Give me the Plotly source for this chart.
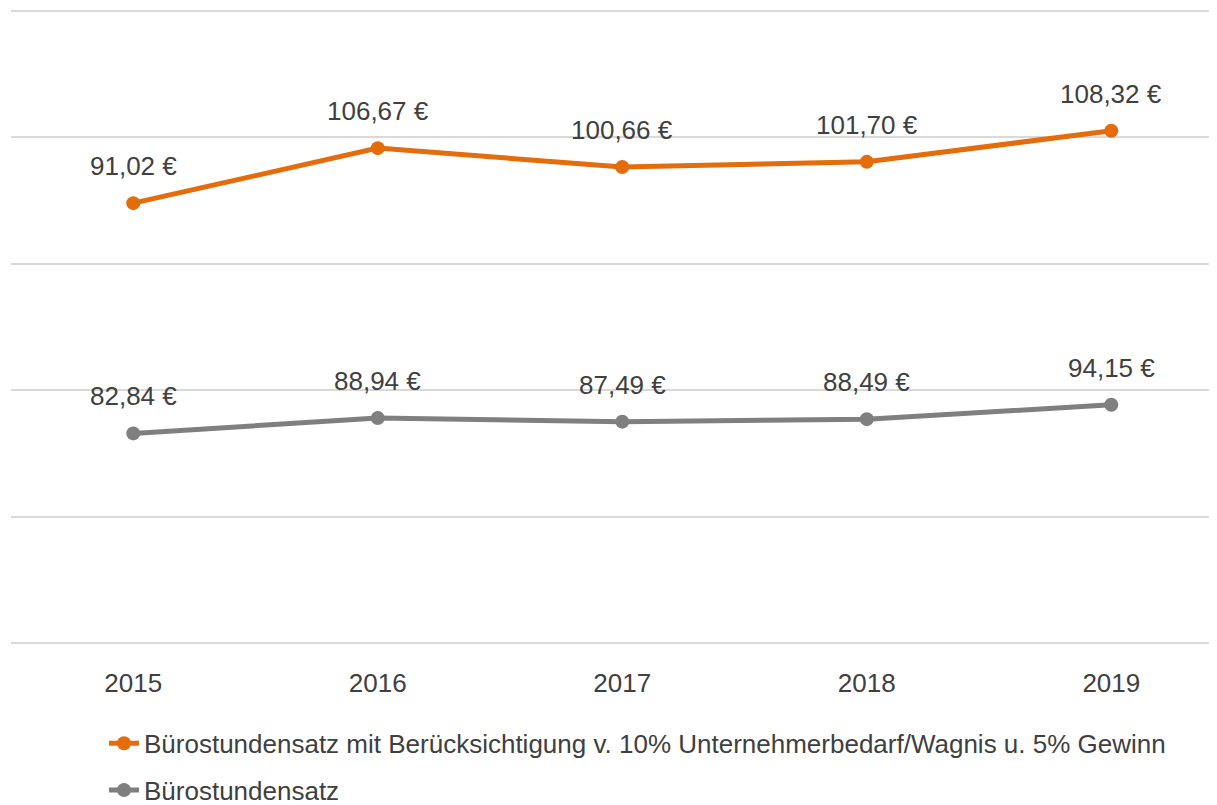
import plotly.graph_objects as go

years = ["2015", "2016", "2017", "2018", "2019"]
buero = [82.84, 88.94, 87.49, 88.49, 94.15]
buero_plus = [91.02, 106.67, 100.66, 101.70, 108.32]

name_plus = "Bürostundensatz mit Berücksichtigung v. 10% Unternehmerbedarf/Wagnis u. 5% Gewinn"
name_buero = "Bürostundensatz"

ORANGE = "#E46C0A"
GREY = "#7F7F7F"
TXT = "#404040"
GRID = "#D9D9D9"
FONT = "Liberation Sans, Arial, sans-serif"


def fmt(v):
    return f"{v:.2f}".replace(".", ",") + " €"


fig = go.Figure()
fig.add_trace(go.Scatter(
    x=years, y=buero, name=name_buero, stackgroup="s", fill="none",
    mode="lines+markers", line=dict(color=GREY, width=5),
    marker=dict(size=14, color=GREY), legendrank=2, legendgroup="b",
    hoverinfo="skip"))
fig.add_trace(go.Scatter(
    x=years, y=buero_plus, name=name_plus, stackgroup="s", fill="none",
    mode="lines+markers", line=dict(color=ORANGE, width=5),
    marker=dict(size=14, color=ORANGE), legendrank=1, legendgroup="a",
    hoverinfo="skip"))

stacked = [a + b for a, b in zip(buero, buero_plus)]
for i, (base, v) in enumerate(zip(buero, buero)):
    fig.add_annotation(x=i, y=base, text=fmt(v), showarrow=False,
                       yshift=37, yanchor="middle",
                       font=dict(family=FONT, size=26, color=TXT))
for i, (top, v) in enumerate(zip(stacked, buero_plus)):
    fig.add_annotation(x=i, y=top, text=fmt(v), showarrow=False,
                       yshift=37, yanchor="middle",
                       font=dict(family=FONT, size=26, color=TXT))

fig.update_layout(
    width=1217, height=805,
    margin=dict(l=3, r=0, t=0, b=170, autoexpand=False),
    paper_bgcolor="white", plot_bgcolor="white",
    font=dict(family=FONT, size=26, color=TXT),
    showlegend=True,
    legend=dict(orientation="v", x=0.0766, xanchor="left", y=-0.121, yanchor="top",
                font=dict(family=FONT, size=26, color=TXT),
                bgcolor="rgba(0,0,0,0)", tracegroupgap=10,
                traceorder="grouped"),
    xaxis=dict(type="category", range=[-0.5, 4.465], showgrid=False,
               showline=False, ticks="", zeroline=False, ticklabelstandoff=22,
               tickfont=dict(family=FONT, size=26, color=TXT)),
    yaxis=dict(range=[0, 251], dtick=50, showgrid=True, gridcolor=GRID,
               gridwidth=2, showticklabels=False, zeroline=True,
               zerolinecolor=GRID, zerolinewidth=2,
               showline=False, ticks=""),
)

fig.write_html("out.html")
